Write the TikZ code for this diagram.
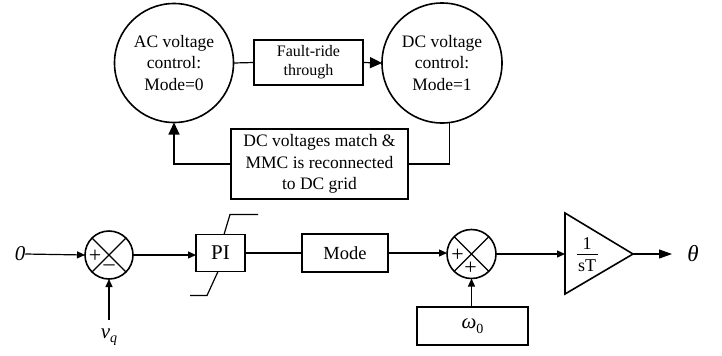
\documentclass[tikz,border=0pt]{standalone}
\usepackage{fontspec}
\setmainfont{Liberation Serif}
\usetikzlibrary{arrows.meta,calc}
\newcommand{\lowsub}[1]{\raisebox{-4.5bp}{\fontsize{14bp}{14bp}\selectfont #1}}
\begin{document}
\begin{tikzpicture}[x=1bp,y=-1bp,
  blk/.style={draw,line width=1.6bp,rectangle,inner sep=0pt,outer sep=0pt,align=center},
  state/.style={draw,line width=1.6bp,circle,inner sep=0pt,outer sep=0pt,align=center,
     font=\fontsize{17.5bp}{21.5bp}\selectfont},
  sumj/.style={draw,line width=1.6bp,circle,inner sep=0pt,outer sep=0pt,minimum size=48bp},
  sign/.style={inner sep=0pt,outer sep=0pt,font=\fontsize{22bp}{22bp}\selectfont},
  conn/.style={line width=1.2bp},
  bigarr/.style={conn,-{Triangle[length=12bp,width=11bp]}},
  smallarr/.style={conn,-{Triangle[length=8bp,width=7bp]}},
  midarr/.style={conn,-{Triangle[length=13bp,width=9bp]}},
  lbl/.style={inner sep=0pt,outer sep=0pt}
]
\useasboundingbox (0,0) rectangle (722,355);

% ---- state machine ----
\node[state,minimum size=119bp] (ac) at (174,63) {AC voltage\\control:\\Mode=0};
\node[state,minimum size=120bp] (dc) at (442,63) {DC voltage\\control:\\Mode=1};
\node[blk,minimum width=109bp,minimum height=45bp,
      font=\fontsize{16bp}{19bp}\selectfont] (frt) at (308.5,62.5) {Fault-ride\\through};
\node[blk,minimum width=177bp,minimum height=70bp,
      font=\fontsize{17.5bp}{21.5bp}\selectfont] (dcm) at (319.5,164)
      {DC voltages match \&\\MMC is reconnected\\to DC grid};
\draw[conn] (ac.east) -- (frt.west);
\draw[bigarr] (frt.east) -- (dc.west);
\draw[conn] (dc.-83) |- (dcm.east);
\draw[bigarr] (dcm.west) -| (ac.south);

% ---- control loop ----
\node[lbl,font=\fontsize{21bp}{21bp}\selectfont\itshape] (in0) at (20,254) {0};
\node[sumj] (s1) at (109,255) {};
\draw[conn] (s1.45) -- (s1.225) (s1.135) -- (s1.-45);
\node[sign] (s1p) at ($(s1.center)+(-14,1)$) {+};
\node[sign] (s1m) at ($(s1.center)+(0,13)$) {–};
\coordinate (vqin) at (109,320);
\node[lbl,font=\fontsize{21bp}{21bp}\selectfont] (vq) at (109,337) {\textit{v}\lowsub{\textit{q}}};
\draw[smallarr] (in0.east) -- (s1.west);
\draw[smallarr] (vqin) -- (s1.south);

\node[blk,minimum width=49bp,minimum height=37bp,
      font=\fontsize{21bp}{21bp}\selectfont] (pi) at (220.5,253) {PI};
\draw[conn] ([xshift=3.5bp]pi.north) -- ++(6,-20) -- ++(28,0);
\draw[conn] ([xshift=-2.5bp]pi.south) -- ++(-11,24) -- ++(-17,0);
\draw[smallarr] (s1.east) -- (s1.east -| pi.west);

\node[blk,minimum width=86bp,minimum height=38bp,
      font=\fontsize{18.5bp}{18.5bp}\selectfont] (mode) at (345,253) {Mode};
\draw[conn] (pi.east) -- (mode.west);

\node[sumj,minimum size=49bp] (s2) at (471.5,254) {};
\draw[conn] (s2.45) -- (s2.225) (s2.135) -- (s2.-45);
\node[sign] (s2p) at ($(s2.center)+(-14,1)$) {+};
\node[sign] (s2q) at ($(s2.center)+(-1,14)$) {+};
\draw[smallarr] (mode.east) -- (mode.east -| s2.west);

\node[blk,minimum width=111bp,minimum height=38bp,
      font=\fontsize{21bp}{21bp}\selectfont] (w0) at (472.5,326) {\textit{ω}\lowsub{0}};
\draw[smallarr] (w0.north -| s2.south) -- (s2.south);

% integrator triangle
\coordinate (tin) at (565,254);
\coordinate (tout) at (633,254);
\draw[line width=1.6bp,line join=miter] (565,213) -- (tout) -- (565,294) -- cycle;
\node[lbl,font=\fontsize{18bp}{18bp}\selectfont] (tfn) at (587,244) {1};
\node[lbl,font=\fontsize{18bp}{18bp}\selectfont] (tfd) at (587,266) {sT};
\draw[line width=0.8bp] (577,254.5) -- (598,254.5);
\draw[smallarr] (s2.east) -- (tin);
\coordinate (thin) at (672,254);
\draw[midarr] (tout) -- (thin);
\node[lbl,font=\fontsize{23bp}{23bp}\selectfont] (th) at (693,254) {\textit{θ}};
\end{tikzpicture}
\end{document}
